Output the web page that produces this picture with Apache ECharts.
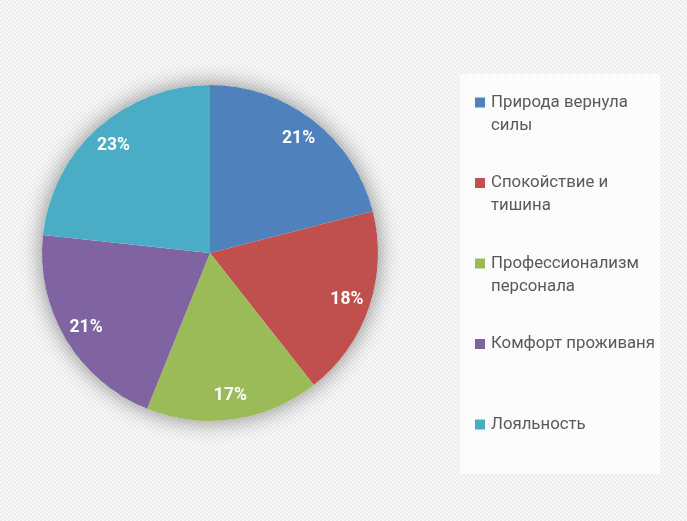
<!DOCTYPE html>
<html>
<head>
<meta charset="utf-8">
<script src="https://cdn.jsdelivr.net/npm/echarts@6/dist/echarts.min.js"></script>
<style>
html,body{margin:0;padding:0;background:#fff;}
#chart{width:687px;height:521px;}
</style>
</head>
<body>
<div id="chart"></div>
<script>
// Data
var categories = ['Природа вернула силы', 'Спокойствие и тишина', 'Профессионализм персонала', 'Комфорт проживаня', 'Лояльность'];
var values = [21.0, 18.4, 16.7, 20.6, 23.3];
var legendLines = [['Природа вернула', 'силы'], ['Спокойствие и', 'тишина'], ['Профессионализм', 'персонала'], ['Комфорт проживаня'], ['Лояльность']];
var colors = ['#4F81BD', '#C0504D', '#9BBB59', '#8064A2', '#4BACC6'];

// striped background pattern
var pc = document.createElement('canvas');
pc.width = 4; pc.height = 4;
var g = pc.getContext('2d');
g.fillStyle = '#fafafa';
g.fillRect(0, 0, 4, 4);
g.fillStyle = '#ebebeb';
for (var i = 0; i < 4; i++) { g.fillRect(i, i, 1, 1); g.fillRect((i + 1) % 4, i, 1, 1); }

var chart = echarts.init(document.getElementById('chart'), null, {renderer: 'canvas'});
var data = categories.map(function (c, i) {
  return {name: c, value: values[i], itemStyle: {color: colors[i]}};
});
var labelMap = {};
categories.forEach(function (c, i) { labelMap[c] = legendLines[i]; });

chart.setOption({
  backgroundColor: {image: pc, repeat: 'repeat'},
  animation: false,
  graphic: [{
    type: 'rect', z: -1, silent: true,
    shape: {x: 460, y: 74, width: 200, height: 400},
    style: {fill: 'rgba(255,255,255,0.8)'}
  }],
  legend: {
    orient: 'vertical',
    left: 475,
    top: 68,
    padding: 0,
    itemGap: 11.5,
    itemWidth: 10,
    itemHeight: 10,
    icon: 'rect',
    data: categories.map(function (c, i) { return {name: c, itemStyle: {color: colors[i]}}; }),
    formatter: function (name) {
      var l = labelMap[name];
      return '\u00a0\n' + l[0] + '\n' + (l[1] || '\u00a0');
    },
    textStyle: {fontFamily: 'Roboto', fontSize: 16.8, color: '#595959', lineHeight: 23, padding: [0, 0, 0, 1]}
  },
  series: [
    {
      type: 'pie', silent: true, z: 1,
      center: [210, 253], radius: [0, 168],
      data: [{value: 1, name: '__bg', itemStyle: {color: '#ffffff', shadowBlur: 22, shadowColor: 'rgba(0,0,0,0.45)'}}],
      label: {show: false}, labelLine: {show: false}
    },
    {
      type: 'pie', z: 2,
      center: [210, 253], radius: [0, 168],
      startAngle: 90, clockwise: true,
      data: data,
      label: {show: false}, labelLine: {show: false},
      emphasis: {disabled: true}
    },
    {
      type: 'pie', z: 3, silent: true,
      center: [210, 253], radius: [0, 283],
      startAngle: 90, clockwise: true,
      data: categories.map(function (c, i) { return {name: c, value: values[i], itemStyle: {color: 'rgba(0,0,0,0)'}}; }),
      label: {
        show: true, position: 'inside',
        formatter: function (p) { return Math.round(p.percent) + '%'; },
        color: '#ffffff', fontFamily: 'Roboto', fontWeight: 'bold', fontSize: 17.5
      },
      labelLine: {show: false},
      emphasis: {disabled: true}
    }
  ]
});
</script>
</body>
</html>
